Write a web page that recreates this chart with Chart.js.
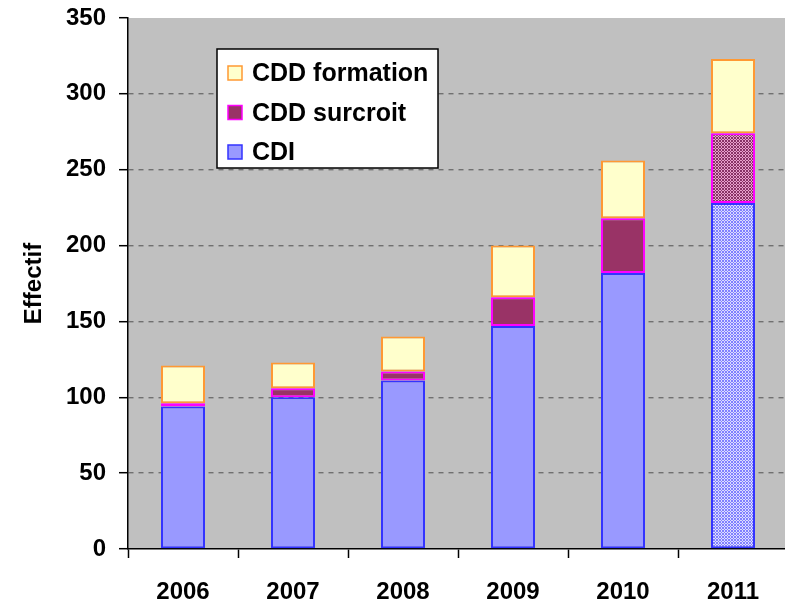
<!DOCTYPE html>
<html>
<head>
<meta charset="utf-8">
<script src="https://cdn.jsdelivr.net/npm/chart.js@4.4.0/dist/chart.umd.min.js"></script>
<style>
  html, body { margin: 0; padding: 0; background: #fff; overflow: hidden; }
  #wrap { width: 788px; height: 605px; }
</style>
</head>
<body>
<div id="wrap"><canvas id="chart" width="788" height="605"></canvas></div>
<script>
const years = ['2006', '2007', '2008', '2009', '2010', '2011'];
const cdi = [94, 100, 111, 147, 182, 228];
const cddSurcroit = [2, 6, 6, 19, 36, 46];
const cddFormation = [25, 17, 23, 34, 38, 49];
const yTicks = [0, 50, 100, 150, 200, 250, 300, 350];

const FONT = 'Liberation Sans, Arial, sans-serif';

function makePattern(bg, fg) {
    const c = document.createElement('canvas');
    c.width = 3; c.height = 3;
    const g = c.getContext('2d');
    g.fillStyle = bg;
    g.fillRect(0, 0, 3, 3);
    g.fillStyle = fg;
    g.fillRect(0, 0, 1, 1);
    g.fillRect(2, 0, 1, 1);
    g.fillRect(1, 1, 1, 1);
    g.fillRect(0, 2, 1, 1);
    g.fillRect(2, 2, 1, 1);
    return g.createPattern(c, 'repeat');
}

// last year is drawn hatched in the original
const cdiPat = makePattern('#dcdcff', '#8080ff');
const surPat = makePattern('#e8a0cc', '#883366');
const cdiFill = years.map((y, i) => i === years.length - 1 ? cdiPat : '#9999ff');
const surFill = years.map((y, i) => i === years.length - 1 ? surPat : '#993366');

const plotBg = {
    id: 'plotBg',
    beforeDraw(chart) {
        const a = chart.chartArea;
        const ctx = chart.ctx;
        ctx.save();
        ctx.fillStyle = '#c0c0c0';
        ctx.fillRect(a.left, a.top, a.right - a.left, a.bottom - a.top);
        ctx.restore();
    }
};

const boxLegend = {
    id: 'boxLegend',
    afterDraw(chart) {
        const ctx = chart.ctx;
        const x = 217, y = 49, w = 221, h = 119;
        ctx.save();
        ctx.fillStyle = '#fff';
        ctx.fillRect(x, y, w, h);
        ctx.strokeStyle = '#000';
        ctx.lineWidth = 1.5;
        ctx.strokeRect(x, y, w, h);
        const items = [
            { label: 'CDD formation', fill: '#ffffcc', stroke: '#ff9933' },
            { label: 'CDD surcroit', fill: '#993366', stroke: '#ff00ff' },
            { label: 'CDI', fill: '#9999ff', stroke: '#3333ff' }
        ];
        items.forEach((it, i) => {
            const cy = 73 + i * 39.5;
            ctx.fillStyle = it.fill;
            ctx.fillRect(228, cy - 7, 14, 14);
            ctx.strokeStyle = it.stroke;
            ctx.lineWidth = 1.5;
            ctx.strokeRect(228, cy - 7, 14, 14);
            ctx.fillStyle = '#000';
            ctx.font = 'bold 25px ' + FONT;
            ctx.textBaseline = 'alphabetic';
            ctx.fillText(it.label, 252, cy + 8);
        });
        ctx.restore();
    }
};

new Chart(document.getElementById('chart'), {
    type: 'bar',
    data: {
        labels: years,
        datasets: [
            { label: 'CDI', data: cdi, backgroundColor: cdiFill, borderColor: '#3333ff' },
            { label: 'CDD surcroit', data: cddSurcroit, backgroundColor: surFill, borderColor: '#ff00ff' },
            { label: 'CDD formation', data: cddFormation, backgroundColor: '#ffffcc', borderColor: '#ff9933' }
        ]
    },
    options: {
        responsive: false,
        animation: false,
        layout: { padding: { top: 18, left: 0, right: 0, bottom: 0 } },
        datasets: {
            bar: {
                borderWidth: 2,
                borderSkipped: false,
                categoryPercentage: 0.4,
                barPercentage: 1
            }
        },
        plugins: {
            legend: { display: false },
            tooltip: { enabled: false }
        },
        scales: {
            x: {
                stacked: true,
                grid: {
                    offset: true,
                    drawOnChartArea: false,
                    tickLength: 9,
                    tickColor: '#000',
                    tickWidth: 1.5
                },
                border: { color: '#000', width: 1.5 },
                ticks: {
                    color: '#000',
                    padding: 20,
                    font: { family: FONT, size: 24, weight: 'bold' }
                },
                afterFit(scale) {
                    scale.height = 56;
                    scale.paddingLeft = 0;
                    scale.paddingRight = 0;
                }
            },
            y: {
                stacked: true,
                min: 0,
                max: 350,
                afterBuildTicks(scale) { scale.ticks = yTicks.map(v => ({ value: v })); },
                grid: {
                    color: ctx => (ctx.tick && (ctx.tick.value === 0 || ctx.tick.value === 350)) ? 'rgba(0,0,0,0)' : '#707070',
                    lineWidth: 1.4,
                    tickLength: 9,
                    tickColor: '#000',
                    tickWidth: 1.5,
                    tickBorderDash: []
                },
                border: { color: '#000', width: 1.5, dash: [5, 5] },
                ticks: {
                    color: '#000',
                    padding: 13,
                    font: { family: FONT, size: 24, weight: 'bold' }
                },
                title: {
                    display: true,
                    text: 'Effectif',
                    color: '#000',
                    padding: { top: 20, bottom: 0 },
                    font: { family: FONT, size: 24, weight: 'bold' }
                },
                afterFit(scale) {
                    scale.width = 128;
                    scale.paddingTop = 0;
                    scale.paddingBottom = 0;
                }
            }
        }
    },
    plugins: [plotBg, boxLegend]
});
</script>
</body>
</html>
